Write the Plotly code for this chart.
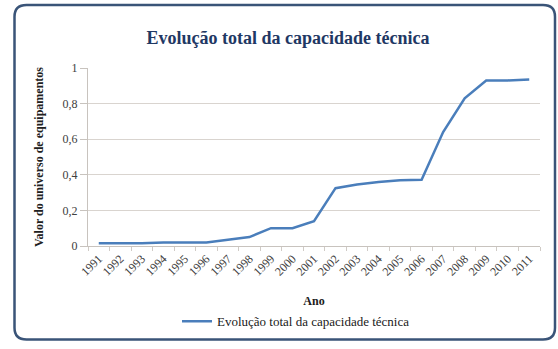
import plotly.graph_objects as go

# Dados da série
anos = [str(a) for a in range(1991, 2012)]
capacidade = [0.015, 0.015, 0.015, 0.02, 0.02, 0.02, 0.035, 0.05, 0.10, 0.10,
              0.14, 0.325, 0.345, 0.36, 0.37, 0.372, 0.64, 0.83, 0.93, 0.93, 0.935]
y_ticks = [0, 0.2, 0.4, 0.6, 0.8, 1]

W, H = 558, 349
L, R, T, B = 88, 18, 68, 99
pw, ph = W - L - R, H - T - B

def px_x(x):
    return (x - L) / pw

def px_y(y):
    return (H - B - y) / ph

# Moldura arredondada em pixels, convertida para coordenadas "paper"
x0, x1, y0, y1, r = 14.5, 555, 3.5, 345.5, 12
pts = [
    f"M {px_x(x0 + r)},{px_y(y0)}",
    f"L {px_x(x1 - r)},{px_y(y0)}",
    f"Q {px_x(x1)},{px_y(y0)} {px_x(x1)},{px_y(y0 + r)}",
    f"L {px_x(x1)},{px_y(y1 - r)}",
    f"Q {px_x(x1)},{px_y(y1)} {px_x(x1 - r)},{px_y(y1)}",
    f"L {px_x(x0 + r)},{px_y(y1)}",
    f"Q {px_x(x0)},{px_y(y1)} {px_x(x0)},{px_y(y1 - r)}",
    f"L {px_x(x0)},{px_y(y0 + r)}",
    f"Q {px_x(x0)},{px_y(y0)} {px_x(x0 + r)},{px_y(y0)} Z",
]

serif = "Liberation Serif"

fig = go.Figure()
fig.add_trace(go.Scatter(
    x=anos, y=capacidade, mode="lines",
    name="Evolução total da capacidade técnica",
    line=dict(color="#4A7EBB", width=2.5),
))

fig.update_layout(
    width=W, height=H,
    margin=dict(l=L, r=R, t=T, b=B),
    paper_bgcolor="white", plot_bgcolor="white",
    separators=",.",
    font=dict(family=serif),
    title=dict(
        text="<b>Evolução total da capacidade técnica</b>",
        x=px_x(288), xref="paper", xanchor="center",
        y=1 - 38 / H, yanchor="middle",
        font=dict(family=serif, size=18, color="#1F3864"),
    ),
    xaxis=dict(
        type="category", tickangle=-45, range=[-0.5, len(anos) - 0.5],
        tickfont=dict(family=serif, size=12, color="#404040"),
        showgrid=False, showline=True, linecolor="#C8C3BE", linewidth=1,
        ticks="outside", ticklen=4, tickcolor="#D0CBC6", tickson="boundaries",
        title=dict(text="<b>Ano</b>", font=dict(family=serif, size=12, color="#202020"),
                   standoff=18),
    ),
    yaxis=dict(
        range=[0, 1], tickvals=y_ticks,
        tickfont=dict(family=serif, size=12, color="#404040"),
        showgrid=True, gridcolor="#D9D4CF", gridwidth=1,
        showline=True, linecolor="#C8C3BE", linewidth=1,
        ticks="outside", ticklen=7, tickcolor="#C8C3BE",
        zeroline=False,
        title=dict(text="<b>Valor do universo de equipamentos</b>",
                   font=dict(family=serif, size=12, color="#202020"), standoff=16),
    ),
    showlegend=True,
    legend=dict(
        orientation="h", x=px_x(296), xanchor="center",
        y=px_y(327), yanchor="middle",
        font=dict(family=serif, size=13, color="#202020"),
        bgcolor="rgba(0,0,0,0)", itemwidth=30,
    ),
    shapes=[dict(
        type="path", xref="paper", yref="paper", path=" ".join(pts),
        line=dict(color="#3A5478", width=2.5), fillcolor="rgba(0,0,0,0)",
        layer="above",
    )],
)

fig.write_html("out.html")
